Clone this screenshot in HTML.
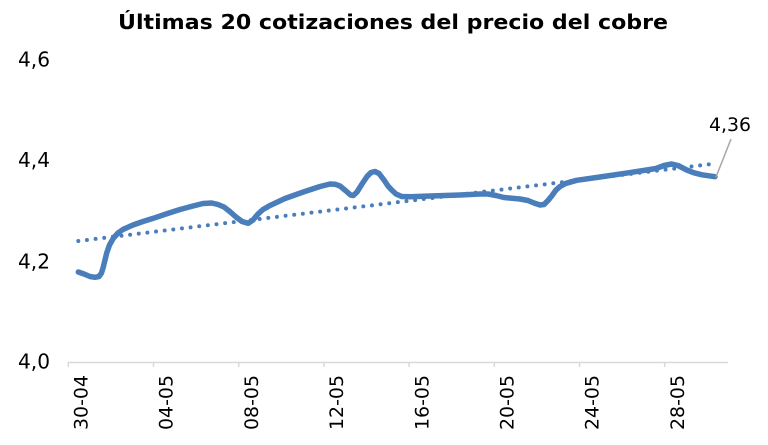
<!DOCTYPE html>
<html>
<head>
<meta charset="utf-8">
<style>
  html, body { margin: 0; padding: 0; background: #ffffff; }
  body { width: 768px; height: 445px; overflow: hidden; }
  svg { display: block; }
  text { font-family: "DejaVu Sans", "Liberation Sans", sans-serif; fill: #000; }
</style>
</head>
<body>
<svg width="768" height="445" viewBox="0 0 768 445" xmlns="http://www.w3.org/2000/svg">
  <!-- Title -->
  <text x="393" y="29" font-size="20" font-weight="bold" text-anchor="middle" textLength="550" lengthAdjust="spacingAndGlyphs">Últimas 20 cotizaciones del precio del cobre</text>

  <!-- Y axis labels -->
  <g font-size="20" text-anchor="end">
    <text x="50" y="66.5" textLength="32" lengthAdjust="spacingAndGlyphs">4,6</text>
    <text x="50" y="167" textLength="32" lengthAdjust="spacingAndGlyphs">4,4</text>
    <text x="50" y="268.5" textLength="32" lengthAdjust="spacingAndGlyphs">4,2</text>
    <text x="50" y="368.5" textLength="32" lengthAdjust="spacingAndGlyphs">4,0</text>
  </g>

  <!-- X axis -->
  <line x1="68" y1="362.5" x2="728" y2="362.5" stroke="#d9d9d9" stroke-width="1.5"/>
  <g stroke="#d9d9d9" stroke-width="1.5">
    <line x1="68.3" y1="362" x2="68.3" y2="367"/>
    <line x1="153.5" y1="362" x2="153.5" y2="367"/>
    <line x1="238.7" y1="362" x2="238.7" y2="367"/>
    <line x1="323.9" y1="362" x2="323.9" y2="367"/>
    <line x1="409.1" y1="362" x2="409.1" y2="367"/>
    <line x1="494.3" y1="362" x2="494.3" y2="367"/>
    <line x1="579.5" y1="362" x2="579.5" y2="367"/>
    <line x1="664.7" y1="362" x2="664.7" y2="367"/>
  </g>

  <!-- X labels (rotated) -->
  <g font-size="19" text-anchor="end">
    <text transform="translate(87.5,375) rotate(-90)" textLength="55" lengthAdjust="spacingAndGlyphs">30-04</text>
    <text transform="translate(172.7,375) rotate(-90)" textLength="55" lengthAdjust="spacingAndGlyphs">04-05</text>
    <text transform="translate(257.9,375) rotate(-90)" textLength="55" lengthAdjust="spacingAndGlyphs">08-05</text>
    <text transform="translate(343.1,375) rotate(-90)" textLength="55" lengthAdjust="spacingAndGlyphs">12-05</text>
    <text transform="translate(428.3,375) rotate(-90)" textLength="55" lengthAdjust="spacingAndGlyphs">16-05</text>
    <text transform="translate(513.5,375) rotate(-90)" textLength="55" lengthAdjust="spacingAndGlyphs">20-05</text>
    <text transform="translate(598.7,375) rotate(-90)" textLength="55" lengthAdjust="spacingAndGlyphs">24-05</text>
    <text transform="translate(683.9,375) rotate(-90)" textLength="55" lengthAdjust="spacingAndGlyphs">28-05</text>
  </g>

  <!-- Main series -->
  <polyline fill="none" stroke="#4a7ebb" stroke-width="5.5" stroke-linejoin="round" stroke-linecap="round"
    points="78.3,272 84,274 90,276.5 95,277.3 99,276.5 101.5,273 103.3,267 105,260 106.7,253 109.5,245 113.3,238.3 118,233 123.3,229.3 133,225 143,221.5 153.3,218.3 166,214 180,209.5 193,206 203,203.5 211.7,203 218,204.5 224,207 230,211.7 236,217 242,221.5 248.3,223.3 253,220 258,214 263,209.5 270,205.5 285,198.5 303.3,192 320,186.5 330,184 335,184.2 340,186 346,191 350.5,195 353.3,195.5 357,192 362,184 367,176.5 371,172.5 375,171.5 379,173.5 384,180 388,186 391.7,190 396,194 401.7,196.5 410,196.8 430,196 460,195 480,194 488,194 496,195.5 504,197.5 520,199 528,200.5 534,203 540,205 544,204.5 548,200.5 551.7,196 556,190 560,186.5 566,183.3 576.7,180.3 600,177 625,173.3 646.7,170 656,168.5 664,165.5 671.7,164 678,165.5 686.7,170 694,172.8 702,174.8 715,176.7"/>

  <!-- Trend line (dotted) -->
  <line x1="78.3" y1="241" x2="716" y2="163.5" stroke="#4a7ebb" stroke-width="4" stroke-linecap="round" stroke-dasharray="0 8.7"/>

  <!-- Data label leader -->
  <line x1="716" y1="177" x2="731" y2="139" stroke="#a6a6a6" stroke-width="1.5"/>
  <text x="709" y="131" font-size="19" textLength="42" lengthAdjust="spacingAndGlyphs">4,36</text>
</svg>
</body>
</html>
